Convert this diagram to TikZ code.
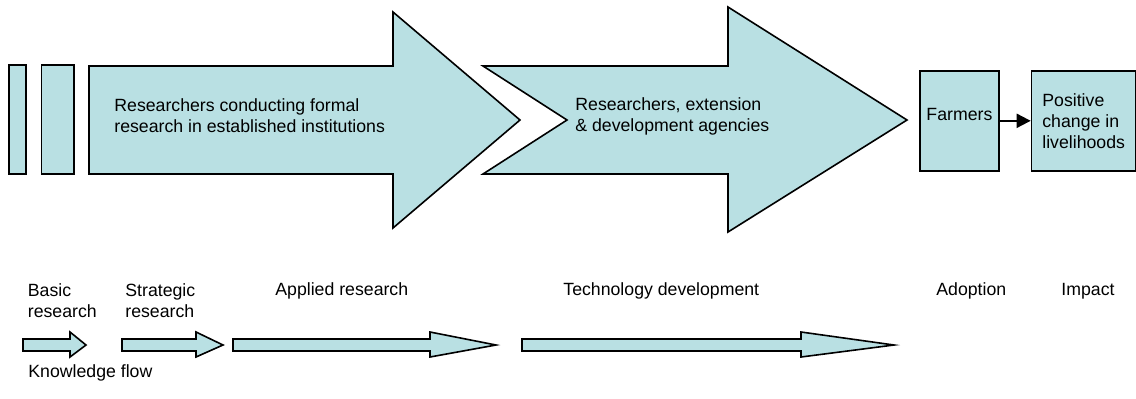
\documentclass[tikz,border=0pt]{standalone}
\usepackage{fontspec}
\setmainfont{Liberation Sans}
\usetikzlibrary{arrows.meta}
\definecolor{paleteal}{RGB}{185,224,227}
\tikzset{
  flowfill/.style={draw=black, fill=paleteal, line width=0.8pt, line join=miter},
  stagetext/.style={anchor=west, align=left, inner sep=0pt, font=\fontsize{8.85}{10.5}\selectfont},
  boxnode/.style={flowfill, anchor=north west, minimum height=50pt, align=left, font=\fontsize{8.85}{10.5}\selectfont}
}
\begin{document}
\begin{tikzpicture}[x=0.5pt,y=-0.5pt]
\useasboundingbox (0,0) rectangle (1136,398);
% basic and strategic research bars
\draw[flowfill] (9,65) rectangle (25.7,174);
\draw[flowfill] (41.3,65) rectangle (73.7,174);
% big arrows
\draw[flowfill] (89,66) -- (393,66) -- (393,12) -- (520,120) -- (393,228) -- (393,174) -- (89,174) -- cycle;
\draw[flowfill] (483,66) -- (728,66) -- (728,7) -- (907,120) -- (728,232) -- (728,174) -- (483,174) -- (567,120) -- cycle;
\node[stagetext] (formal) at (114,116) {Researchers conducting formal\\research in established institutions};
\node[stagetext] (agencies) at (575,116) {Researchers, extension\\\& development agencies};
% adoption and impact
\node[boxnode, minimum width=37.5pt, text depth=6pt] (farmers) at (919,70) {Farmers};
\node[boxnode, minimum width=52.2pt] (impact) at (1030.7,70) {Positive\\change in\\livelihoods};
\draw[line width=1pt, -{Triangle[length=7pt,width=7pt]}] (farmers) -- (impact);
% stage names
\node[stagetext] (basic) at (27.5,301) {Basic\\research};
\node[stagetext] (strategic) at (125,301) {Strategic\\research};
\node[stagetext] (applied) at (275,291) {Applied research};
\node[stagetext] (techdev) at (563,291) {Technology development};
\node[stagetext] (adoption) at (936,291) {Adoption};
\node[stagetext] (impactname) at (1061,291) {Impact};
% knowledge flow arrows
\foreach \a/\b/\c in {23/70/86, 122/196/223, 233/430/496, 522/801/894}
\draw[flowfill] (\a,339) -- (\b,339) -- (\b,332) -- (\c,345) -- (\b,357) -- (\b,351) -- (\a,351) -- cycle;
\node[stagetext] (knowledge) at (28,373) {Knowledge flow};
\end{tikzpicture}
\end{document}
